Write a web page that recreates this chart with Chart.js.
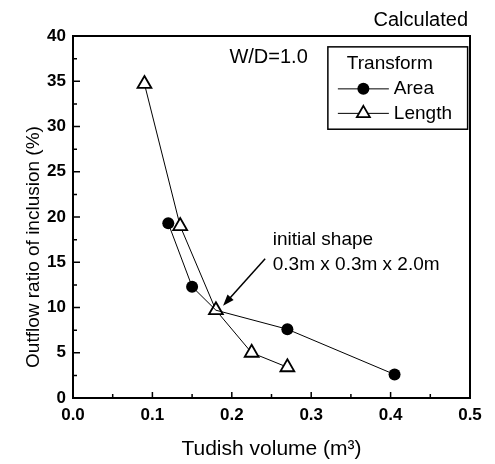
<!DOCTYPE html>
<html lang="en">
<head>
  <meta charset="UTF-8">
  <title>Outflow ratio of inclusion vs tudish volume</title>
  <script src="https://cdn.jsdelivr.net/npm/chart.js"></script>
  <style>
    html, body {
      margin: 0;
      padding: 0;
      background: #fff;
    }
    .chart-container {
      position: relative;
      width: 495px;
      height: 464px;
    }
  </style>
</head>
<body>

  <div class="chart-container"><canvas id="chart"></canvas></div>

  <script>
    // values (tudish volume in m3, outflow ratio in %)
    const areaVolume    = [0.120, 0.150, 0.180, 0.270, 0.405];
    const areaOutflow   = [19.3, 12.3, 9.7, 7.6, 2.6];
    const lengthVolume  = [0.090, 0.135, 0.180, 0.225, 0.270];
    const lengthOutflow = [34.7, 19.0, 9.7, 5.0, 3.4];
    const seriesNames   = ['Area', 'Length'];
    const legendTitle   = 'Transform';
    const yTitle        = 'Outflow ratio of inclusion (%)';

    const FONT = "'Liberation Sans', Arial, Helvetica, sans-serif";

    function toPoints(xs, ys) {
      return xs.map((x, i) => ({ x: x, y: ys[i] }));
    }

    // circle at the initial shape is hidden under the triangle
    const areaRadius = areaVolume.map(v => (v === 0.18 ? 0 : 6));

    function drawMarker(ctx, style, x, y, r) {
      ctx.beginPath();
      if (style === 'circle') {
        ctx.arc(x, y, r, 0, Math.PI * 2);
        ctx.fillStyle = '#000';
        ctx.fill();
      } else {
        ctx.moveTo(x, y - r);
        ctx.lineTo(x + r * 0.866, y + r * 0.5);
        ctx.lineTo(x - r * 0.866, y + r * 0.5);
        ctx.closePath();
        ctx.fillStyle = '#fff';
        ctx.fill();
        ctx.lineWidth = 1.8;
        ctx.strokeStyle = '#000';
        ctx.stroke();
      }
    }

    const decorations = {
      id: 'decorations',
      afterDraw(chart) {
        const ctx = chart.ctx;
        const a = chart.chartArea;
        const xs = chart.scales.x;
        const ys = chart.scales.y;
        ctx.save();

        // frame
        ctx.strokeStyle = '#000';
        ctx.lineWidth = 2;
        ctx.strokeRect(a.left, a.top, a.right - a.left, a.bottom - a.top);

        // inward ticks on left and bottom axes
        ctx.lineWidth = 1.5;
        ctx.beginPath();
        for (let k = 0; k <= 16; k++) {
          const py = ys.getPixelForValue(k * 2.5);
          const len = k % 2 === 0 ? 7 : 4;
          ctx.moveTo(a.left, py);
          ctx.lineTo(a.left + len, py);
        }
        for (let k = 0; k <= 10; k++) {
          const px = xs.getPixelForValue(k * 0.05);
          const len = k % 2 === 0 ? 6 : 4;
          ctx.moveTo(px, a.bottom);
          ctx.lineTo(px, a.bottom - len);
        }
        ctx.stroke();

        ctx.fillStyle = '#000';
        ctx.textBaseline = 'middle';

        // y axis title, sits a bit below the middle in the original
        ctx.save();
        ctx.translate(34, 247);
        ctx.rotate(-Math.PI / 2);
        ctx.textAlign = 'center';
        ctx.font = '19px ' + FONT;
        ctx.fillText(yTitle, 0, 0);
        ctx.restore();

        // corner labels
        ctx.font = '20px ' + FONT;
        ctx.textAlign = 'right';
        ctx.fillText('Calculated', a.right - 2, 20);
        ctx.textAlign = 'left';
        ctx.fillText('W/D=1.0', xs.getPixelForValue(0.197), ys.getPixelForValue(37.6));

        // legend box
        ctx.font = '19px ' + FONT;
        const bl = xs.getPixelForValue(0.321);
        const br = xs.getPixelForValue(0.497);
        const bt = ys.getPixelForValue(38.8);
        const bb = ys.getPixelForValue(29.7);
        ctx.fillStyle = '#fff';
        ctx.fillRect(bl, bt, br - bl, bb - bt);
        ctx.lineWidth = 1.5;
        ctx.strokeStyle = '#000';
        ctx.strokeRect(bl, bt, br - bl, bb - bt);
        ctx.fillStyle = '#000';
        ctx.fillText(legendTitle, bl + 19, bt + 17);
        const rows = [
          { name: seriesNames[0], style: 'circle', r: 6 },
          { name: seriesNames[1], style: 'triangle', r: 7.5 }
        ];
        rows.forEach((row, i) => {
          const y = bt + 42 + i * 24.5;
          ctx.lineWidth = 1;
          ctx.strokeStyle = '#000';
          ctx.beginPath();
          ctx.moveTo(bl + 10, y);
          ctx.lineTo(bl + 61, y);
          ctx.stroke();
          drawMarker(ctx, row.style, bl + 35.5, y, row.r);
          ctx.fillStyle = '#000';
          ctx.fillText(row.name, bl + 66, y);
        });

        // initial shape note with arrow
        ctx.fillText('initial shape', xs.getPixelForValue(0.2516), ys.getPixelForValue(17.45));
        ctx.fillText('0.3m x 0.3m x 2.0m', xs.getPixelForValue(0.2516), ys.getPixelForValue(14.7));

        const x0 = xs.getPixelForValue(0.242), y0 = ys.getPixelForValue(15.4);
        const x1 = xs.getPixelForValue(0.189), y1 = ys.getPixelForValue(10.2);
        const ang = Math.atan2(y1 - y0, x1 - x0);
        ctx.lineWidth = 1.5;
        ctx.beginPath();
        ctx.moveTo(x0, y0);
        ctx.lineTo(x1 - Math.cos(ang) * 8, y1 - Math.sin(ang) * 8);
        ctx.stroke();
        ctx.beginPath();
        ctx.moveTo(x1, y1);
        ctx.lineTo(x1 - Math.cos(ang - 0.35) * 12, y1 - Math.sin(ang - 0.35) * 12);
        ctx.lineTo(x1 - Math.cos(ang + 0.35) * 12, y1 - Math.sin(ang + 0.35) * 12);
        ctx.closePath();
        ctx.fill();

        ctx.restore();
      }
    };

    const ctx = document.getElementById('chart').getContext('2d');
    const chart = new Chart(ctx, {
      type: 'scatter',
      data: {
        datasets: [{
          label: seriesNames[0],
          data: toPoints(areaVolume, areaOutflow),
          showLine: true,
          borderColor: '#000',
          borderWidth: 1,
          backgroundColor: '#000',
          pointStyle: 'circle',
          pointRadius: areaRadius,
          pointBorderWidth: 0,
          tension: 0
        }, {
          label: seriesNames[1],
          data: toPoints(lengthVolume, lengthOutflow),
          showLine: true,
          borderColor: '#000',
          borderWidth: 1,
          pointBackgroundColor: '#fff',
          pointBorderColor: '#000',
          pointBorderWidth: 1.8,
          pointStyle: 'triangle',
          pointRadius: 8,
          tension: 0
        }]
      },
      options: {
        animation: false,
        responsive: true,
        maintainAspectRatio: false,
        layout: { padding: { top: 36, right: 25, left: 0, bottom: 0 } },
        plugins: {
          legend: { display: false },
          tooltip: { enabled: false }
        },
        scales: {
          x: {
            type: 'linear',
            min: 0,
            max: 0.5,
            afterFit(scale) { scale.height = 66; },
            grid: { display: false, drawTicks: false },
            border: { display: false },
            ticks: {
              stepSize: 0.1,
              padding: 7,
              color: '#000',
              font: { family: FONT, size: 17, weight: 'bold' },
              callback: v => v.toFixed(1)
            },
            title: {
              display: true,
              text: 'Tudish volume (m\u00B3)',
              color: '#000',
              font: { family: FONT, size: 21 },
              padding: { top: 0, bottom: 2 }
            }
          },
          y: {
            type: 'linear',
            min: 0,
            max: 40,
            afterFit(scale) { scale.width = 73; },
            grid: { display: false, drawTicks: false },
            border: { display: false },
            ticks: {
              stepSize: 5,
              padding: 7,
              color: '#000',
              font: { family: FONT, size: 17, weight: 'bold' }
            }
          }
        }
      },
      plugins: [decorations]
    });
  </script>
</body>
</html>
